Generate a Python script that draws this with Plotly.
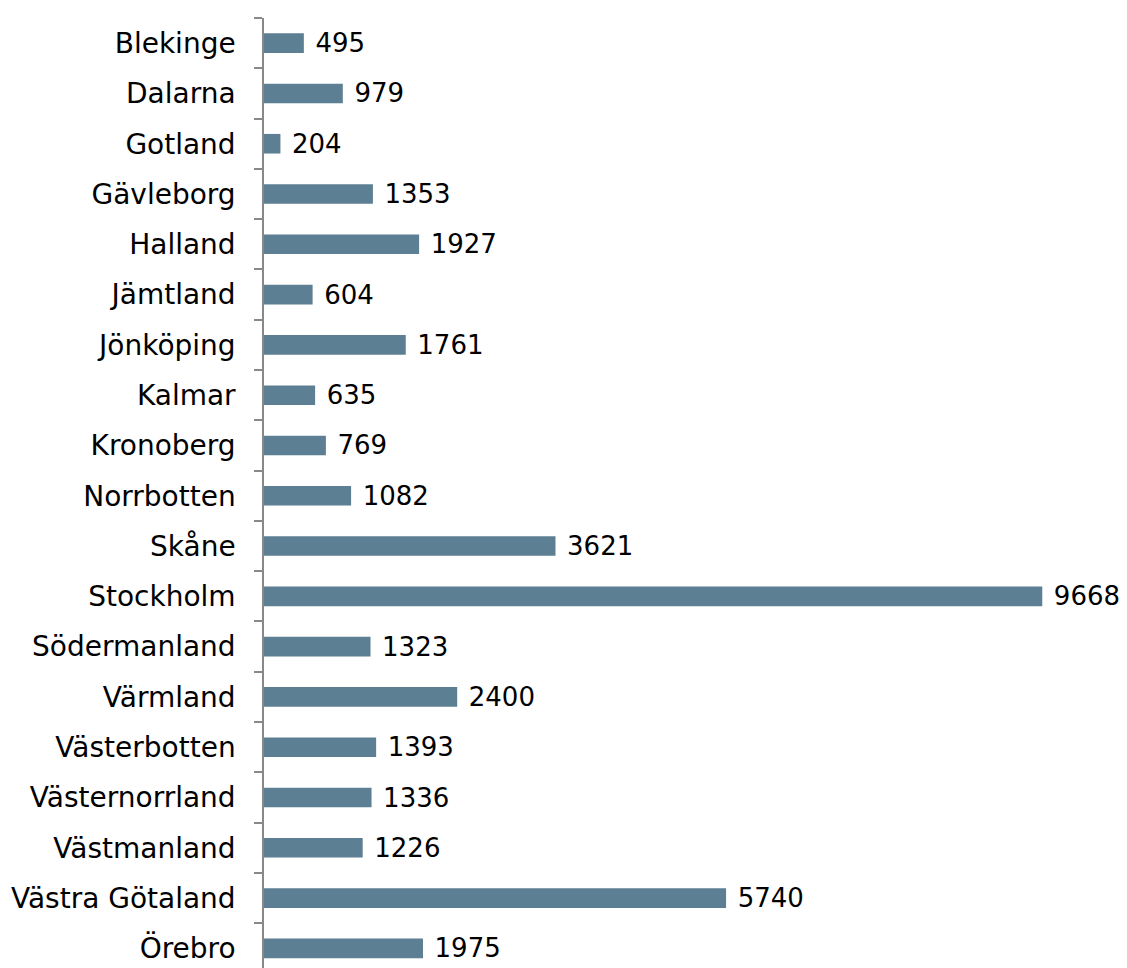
import plotly.graph_objects as go

regions = ["Blekinge", "Dalarna", "Gotland", "Gävleborg", "Halland", "Jämtland",
           "Jönköping", "Kalmar", "Kronoberg", "Norrbotten", "Skåne", "Stockholm",
           "Södermanland", "Värmland", "Västerbotten", "Västernorrland",
           "Västmanland", "Västra Götaland", "Örebro"]
values = [495, 979, 204, 1353, 1927, 604, 1761, 635, 769, 1082, 3621, 9668,
          1323, 2400, 1393, 1336, 1226, 5740, 1975]

fig = go.Figure(go.Bar(
    x=values, y=regions, orientation="h",
    marker=dict(color="#5D7F93", line=dict(width=0)),
    width=0.39,
    text=values, texttemplate="\u2004%{x}", textposition="outside",
    constraintext="none", cliponaxis=False,
    textfont=dict(family="DejaVu Sans", size=26, color="#000000"),
))

fig.update_layout(
    width=1119, height=960,
    margin=dict(l=256, r=58, t=10, b=0),
    plot_bgcolor="white", paper_bgcolor="white",
    font=dict(family="DejaVu Sans", size=26, color="#000000"),
    showlegend=False,
)
fig.update_xaxes(range=[0, 10000], visible=False, showgrid=False, zeroline=False,
                 automargin=False)
fig.update_yaxes(
    type="category", categoryorder="array", categoryarray=regions,
    range=[18.39, -0.5], showline=True, linecolor="#888888", linewidth=1.5,
    ticks="outside", tickson="boundaries", ticklen=8, tickcolor="#888888",
    tickwidth=1.5, ticklabelstandoff=21, showgrid=False, zeroline=False,
    tickfont=dict(family="DejaVu Sans", size=28, color="#000000"),
    automargin=False,
)

fig.write_html("out.html")
